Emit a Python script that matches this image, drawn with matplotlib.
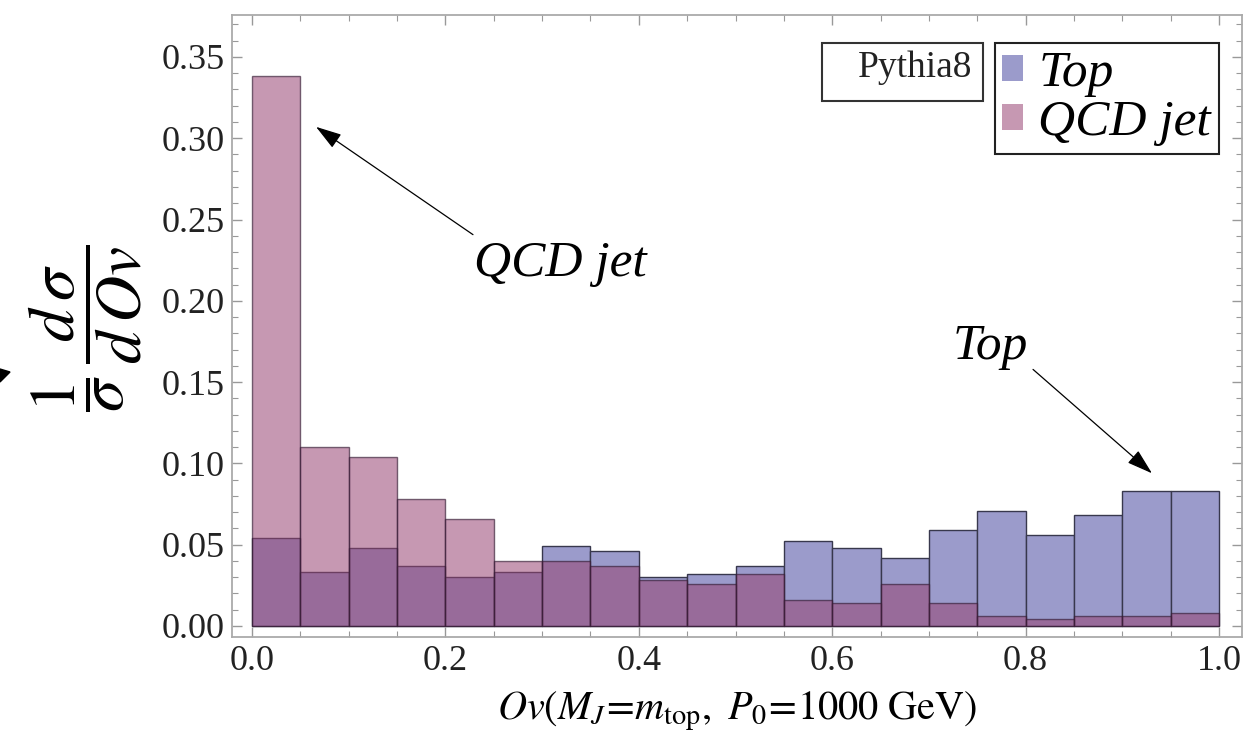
import numpy as np
import matplotlib
matplotlib.use("Agg")
import matplotlib.pyplot as plt
from matplotlib.patches import Patch, Rectangle, Polygon
from matplotlib.ticker import MultipleLocator

plt.rcParams['font.family'] = ['Liberation Serif', 'DejaVu Serif']
plt.rcParams['mathtext.fontset'] = 'stix'

# histogram bins (20 bins on [0,1]) and normalised heights
bin_edges = np.linspace(0.0, 1.0, 21)
top_vals = [0.054, 0.033, 0.048, 0.037, 0.030, 0.033, 0.049, 0.046, 0.030, 0.032,
            0.037, 0.052, 0.048, 0.042, 0.059, 0.071, 0.056, 0.068, 0.083, 0.083]
qcd_vals = [0.338, 0.110, 0.104, 0.078, 0.066, 0.040, 0.040, 0.037, 0.028, 0.026,
            0.032, 0.016, 0.014, 0.026, 0.014, 0.006, 0.004, 0.006, 0.006, 0.008]
series_names = ["Top", "QCD jet"]

top_col = (155/255, 155/255, 203/255)
qcd_col = (151/255, 68/255, 115/255)
qcd_alpha = 0.55
pink_legend = (198/255, 152/255, 178/255)

fig = plt.figure(figsize=(12.58, 7.32), dpi=100)
ax = fig.add_axes([232/1258, 1-637/732, 1010/1258, 622/732])

w = bin_edges[1] - bin_edges[0]
ax.bar(bin_edges[:-1], top_vals, width=w, align='edge', color=top_col,
       edgecolor=(0.22, 0.22, 0.3), linewidth=1.0)
ax.bar(bin_edges[:-1], qcd_vals, width=w, align='edge',
       facecolor=qcd_col + (qcd_alpha,), edgecolor=(0.2, 0.1, 0.2, 0.65), linewidth=1.0)

ax.set_xlim(-0.0207, 1.0238)
ax.set_ylim(-0.0068, 0.3758)

ax.xaxis.set_major_locator(MultipleLocator(0.2))
ax.xaxis.set_minor_locator(MultipleLocator(0.05))
ax.yaxis.set_major_locator(MultipleLocator(0.05))
ax.yaxis.set_minor_locator(MultipleLocator(0.01))
ax.xaxis.set_major_formatter(matplotlib.ticker.FormatStrFormatter('%.1f'))
ax.yaxis.set_major_formatter(matplotlib.ticker.FormatStrFormatter('%.2f'))

for s in ax.spines.values():
    s.set_color('#aaaaaa')
    s.set_linewidth(1.3)
ax.tick_params(which='both', direction='in', top=True, right=True,
               color='#999999', labelsize=26, labelcolor='#222222')
ax.tick_params(which='major', length=7, width=1.0)
ax.tick_params(which='minor', length=4, width=0.8)
ax.tick_params(axis='y', pad=5)
ax.tick_params(axis='x', pad=6)

ax.set_xlabel(r'$Ov(M_J\!=\!m_{\rm top},\ P_0\!=\!1000\ {\rm GeV})$', fontsize=29, labelpad=8)
fig.text(85/1258, 1-328/732, r'$\dfrac{1}{\sigma}\,\dfrac{d\,\sigma}{d\,Ov}$',
         rotation=90, ha='center', va='center', fontsize=47)

# annotations
arrow_style = dict(arrowstyle='-|>,head_length=1.6,head_width=0.5',
                   color='black', lw=0.9, shrinkA=0, shrinkB=0)
ax.annotate('', xy=(0.0662, 0.307), xytext=(0.2285, 0.2407), arrowprops=arrow_style)
ax.text(0.3185, 0.2229, 'QCD jet', fontsize=37, style='italic', ha='center', va='center')
ax.annotate('', xy=(0.9307, 0.0939), xytext=(0.8077, 0.1578), arrowprops=arrow_style)
ax.text(0.764, 0.172, 'Top', fontsize=37, style='italic', ha='center', va='center')

# legend
handles = [Patch(facecolor=top_col, edgecolor='none'),
           Patch(facecolor=pink_legend, edgecolor='none')]
leg = ax.legend(handles, series_names, loc='upper right', bbox_to_anchor=(0.977, 0.955),
                borderaxespad=0, fancybox=False, framealpha=1, edgecolor='#222222',
                prop=dict(size=37, style='italic'), handlelength=0.4, handleheight=0.4,
                handletextpad=0.3, labelspacing=0.05, borderpad=0.15)
leg.get_frame().set_linewidth(1.5)

# Pythia8 label box
ax.add_patch(Rectangle((0.584, 0.8617), 0.1596, 0.0933, transform=ax.transAxes,
                       facecolor='white', edgecolor='#333333', linewidth=1.5, zorder=5))
ax.text(0.7327, 0.9148, 'Pythia8', transform=ax.transAxes, ha='right', va='center',
        fontsize=27, color='#222222', zorder=6)

# stray arrow head at the left edge of the original figure
fig.patches.append(Polygon([(0, 1-369/732), (10/1258, 1-372/732), (0, 1-382/732)],
                           closed=True, transform=fig.transFigure, color='black'))

fig.savefig('out.png', dpi=100)
